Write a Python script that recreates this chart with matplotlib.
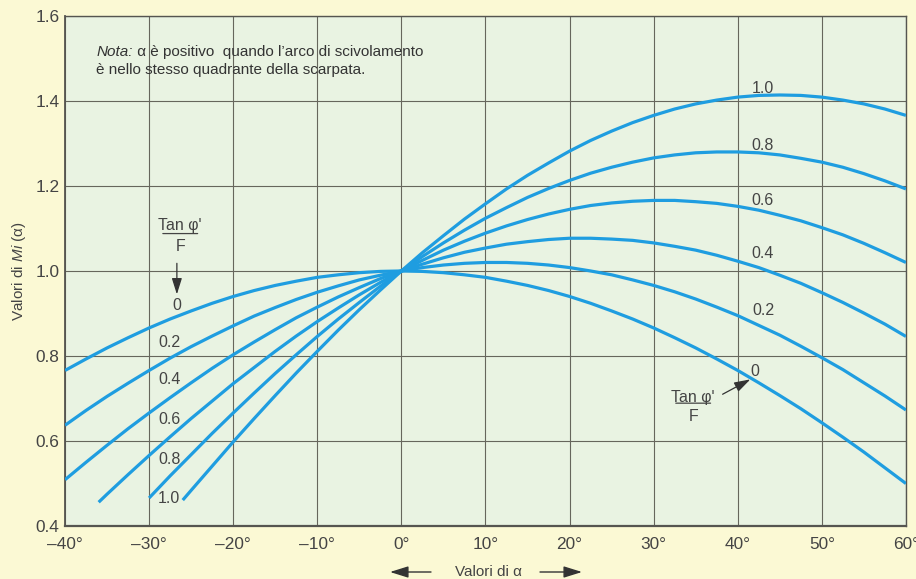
import matplotlib
matplotlib.use("Agg")
import matplotlib.pyplot as plt
from matplotlib.patches import FancyArrowPatch

plt.rcParams['font.family'] = ['Liberation Sans', 'DejaVu Sans']
plt.rcParams['mathtext.fontset'] = 'custom'
plt.rcParams['mathtext.rm'] = 'Liberation Sans'
plt.rcParams['mathtext.it'] = 'Liberation Sans:italic'

# values of Mi(alpha), one list per Tan(phi')/F
alpha_full = [-40, -37.5, -35, -32.5, -30, -27.5, -25, -22.5, -20, -17.5, -15, -12.5, -10, -7.5,
              -5, -2.5, 0, 2.5, 5, 7.5, 10, 12.5, 15, 17.5, 20, 22.5, 25, 27.5, 30, 32.5, 35,
              37.5, 40, 42.5, 45, 47.5, 50, 52.5, 55, 57.5, 60]
alpha_06 = [-36, -35, -32.5, -30, -27.5, -25, -22.5, -20, -17.5, -15, -12.5, -10, -7.5,
            -5, -2.5, 0, 2.5, 5, 7.5, 10, 12.5, 15, 17.5, 20, 22.5, 25, 27.5, 30, 32.5, 35,
            37.5, 40, 42.5, 45, 47.5, 50, 52.5, 55, 57.5, 60]
alpha_08 = [-30, -27.5, -25, -22.5, -20, -17.5, -15, -12.5, -10, -7.5,
            -5, -2.5, 0, 2.5, 5, 7.5, 10, 12.5, 15, 17.5, 20, 22.5, 25, 27.5, 30, 32.5, 35,
            37.5, 40, 42.5, 45, 47.5, 50, 52.5, 55, 57.5, 60]
alpha_10 = [-26, -25, -22.5, -20, -17.5, -15, -12.5, -10, -7.5,
            -5, -2.5, 0, 2.5, 5, 7.5, 10, 12.5, 15, 17.5, 20, 22.5, 25, 27.5, 30, 32.5, 35,
            37.5, 40, 42.5, 45, 47.5, 50, 52.5, 55, 57.5, 60]

mi_00 = [0.766, 0.793, 0.819, 0.843, 0.866, 0.887, 0.906, 0.924, 0.940, 0.954, 0.966, 0.976,
         0.985, 0.991, 0.996, 0.999, 1.000, 0.999, 0.996, 0.991, 0.985, 0.976, 0.966, 0.954,
         0.940, 0.924, 0.906, 0.887, 0.866, 0.843, 0.819, 0.793, 0.766, 0.737, 0.707, 0.676,
         0.643, 0.609, 0.574, 0.537, 0.500]
mi_02 = [0.637, 0.672, 0.705, 0.736, 0.766, 0.795, 0.822, 0.847, 0.871, 0.894, 0.914, 0.933,
         0.950, 0.965, 0.979, 0.990, 1.000, 1.008, 1.014, 1.018, 1.020, 1.020, 1.018, 1.014,
         1.008, 1.000, 0.991, 0.979, 0.966, 0.951, 0.934, 0.915, 0.895, 0.872, 0.849, 0.823,
         0.796, 0.768, 0.737, 0.706, 0.673]
mi_04 = [0.509, 0.550, 0.590, 0.629, 0.666, 0.702, 0.737, 0.771, 0.803, 0.833, 0.862, 0.890,
         0.915, 0.939, 0.961, 0.982, 1.000, 1.016, 1.031, 1.044, 1.054, 1.063, 1.069, 1.074,
         1.077, 1.077, 1.075, 1.072, 1.066, 1.058, 1.049, 1.037, 1.023, 1.008, 0.990, 0.971,
         0.949, 0.926, 0.901, 0.875, 0.846]
mi_06 = [0.456, 0.475, 0.521, 0.566, 0.610, 0.653, 0.694, 0.735, 0.773, 0.811, 0.847,
         0.881, 0.913, 0.944, 0.973, 1.000, 1.025, 1.049, 1.070, 1.089, 1.106, 1.121, 1.134,
         1.145, 1.154, 1.160, 1.164, 1.166, 1.166, 1.163, 1.159, 1.152, 1.143, 1.131, 1.118,
         1.102, 1.085, 1.065, 1.043, 1.020]
mi_08 = [0.466, 0.518, 0.568, 0.618, 0.666, 0.713, 0.759, 0.803, 0.846, 0.887, 0.926,
         0.964, 1.000, 1.034, 1.066, 1.096, 1.124, 1.149, 1.173, 1.194, 1.213, 1.230, 1.244,
         1.256, 1.266, 1.273, 1.278, 1.280, 1.280, 1.278, 1.273, 1.265, 1.256, 1.244, 1.229,
         1.212, 1.193]
mi_10 = [0.461, 0.484, 0.541, 0.598, 0.653, 0.707, 0.760, 0.811, 0.861, 0.909, 0.955,
         1.000, 1.043, 1.083, 1.122, 1.158, 1.193, 1.225, 1.254, 1.282, 1.307, 1.329, 1.349,
         1.366, 1.381, 1.393, 1.402, 1.409, 1.413, 1.414, 1.413, 1.409, 1.402, 1.393, 1.381,
         1.366]

curve_labels = ['0', '0.2', '0.4', '0.6', '0.8', '1.0']
curves = [(alpha_full, mi_00), (alpha_full, mi_02), (alpha_full, mi_04),
          (alpha_06, mi_06), (alpha_08, mi_08), (alpha_10, mi_10)]

x_ticks = [-40, -30, -20, -10, 0, 10, 20, 30, 40, 50, 60]
y_ticks = [0.4, 0.6, 0.8, 1.0, 1.2, 1.4, 1.6]

BLUE = '#1f9de0'
GRID = '#66665c'
TXT = '#444444'

fig = plt.figure(figsize=(9.16, 5.79), dpi=100, facecolor='#fbf9d4')
ax = fig.add_axes([0.071, 0.0915, 0.918, 0.881])
ax.set_facecolor('#e9f3e2')

for x, y in curves:
    ax.plot(x, y, color=BLUE, lw=2.3, solid_joinstyle='round', solid_capstyle='butt', zorder=3)

ax.set_xlim(-40, 60)
ax.set_ylim(0.4, 1.6)
ax.set_xticks(x_ticks)
ax.set_xticklabels([('\u2013%d°' % -v) if v < 0 else '%d°' % v for v in x_ticks])
ax.set_yticks(y_ticks)
ax.set_yticklabels(['%.1f' % v for v in y_ticks])
ax.tick_params(length=0, labelsize=12.4, colors=TXT)
ax.tick_params(axis='x', pad=8)
ax.tick_params(axis='y', pad=4)
ax.grid(True, color=GRID, lw=0.8, zorder=1)
for s in ax.spines.values():
    s.set_color('#555550')
    s.set_linewidth(1.0)
ax.spines['bottom'].set_linewidth(1.6)
ax.spines['left'].set_linewidth(1.3)

# labels on the left end of the curves
left_y = [0.918, 0.832, 0.745, 0.651, 0.557, 0.465]
for lab, yy in zip(curve_labels, left_y):
    xx = -26.7 if lab == '0' else -27.6
    ax.text(xx, yy, lab, fontsize=11.5, color=TXT, ha='center', va='center', zorder=4)

# labels on the right
right_y = [0.764, 0.906, 1.041, 1.166, 1.294, 1.430]
for lab, yy in zip(curve_labels, right_y):
    xx = 42.0 if lab == '0' else 43.0
    ax.text(xx, yy, lab, fontsize=11.5, color=TXT, ha='center', va='center', zorder=4)


def fraction(x, y_top, y_bot, y_line, half):
    ax.text(x, y_top, "Tan \u03c6'", fontsize=11.5, color=TXT, ha='center', va='center', zorder=4)
    ax.text(x, y_bot, 'F', fontsize=11.5, color=TXT, ha='center', va='center', zorder=4)
    ax.annotate('', xy=(x + half, y_line), xytext=(x - half, y_line),
                arrowprops=dict(arrowstyle='-', color=TXT, lw=0.9), zorder=4)


fraction(-26.3, 1.108, 1.057, 1.088, 2.4)
ax.annotate('', xy=(-26.7, 0.945), xytext=(-26.7, 1.018),
            arrowprops=dict(arrowstyle='-|>,head_length=0.7,head_width=0.22', color='#333333',
                            lw=0.9, shrinkA=0, shrinkB=0, mutation_scale=14), zorder=4)

fraction(34.7, 0.703, 0.658, 0.689, 2.4)
ax.annotate('', xy=(41.5, 0.745), xytext=(38.2, 0.71),
            arrowprops=dict(arrowstyle='-|>,head_length=0.7,head_width=0.22', color='#333333',
                            lw=0.9, shrinkA=0, shrinkB=0, mutation_scale=14), zorder=4)

# note
t1 = ax.text(-36.3, 1.505, 'Nota:', fontsize=11, style='italic', color='#333333', va='baseline', zorder=4)
ax.annotate(' \u03b1 è positivo  quando l\u2019arco di scivolamento', xy=(1, 0), xycoords=t1,
            fontsize=11, color='#333333', va='bottom', ha='left', zorder=4)
ax.text(-36.3, 1.464, 'è nello stesso quadrante della scarpata.', fontsize=11,
        color='#333333', va='baseline', zorder=4)

ax.set_ylabel('Valori di $\\mathit{Mi}$ (\u03b1)', fontsize=11, color=TXT, labelpad=5)

# x label with arrows
fig.text(488 / 916, 1 - 572 / 579, 'Valori di \u03b1', fontsize=11, color=TXT, ha='center', va='center')
arrow = dict(arrowstyle='-|>,head_length=0.8,head_width=0.25', color='#333333', lw=1.0,
             shrinkA=0, shrinkB=0, mutation_scale=14)
fig.add_artist(FancyArrowPatch((431 / 916, 7 / 579), (390 / 916, 7 / 579),
                               transform=fig.transFigure, **arrow))
fig.add_artist(FancyArrowPatch((540 / 916, 7 / 579), (582 / 916, 7 / 579),
                               transform=fig.transFigure, **arrow))

fig.savefig('out.png', dpi=100, facecolor=fig.get_facecolor())
